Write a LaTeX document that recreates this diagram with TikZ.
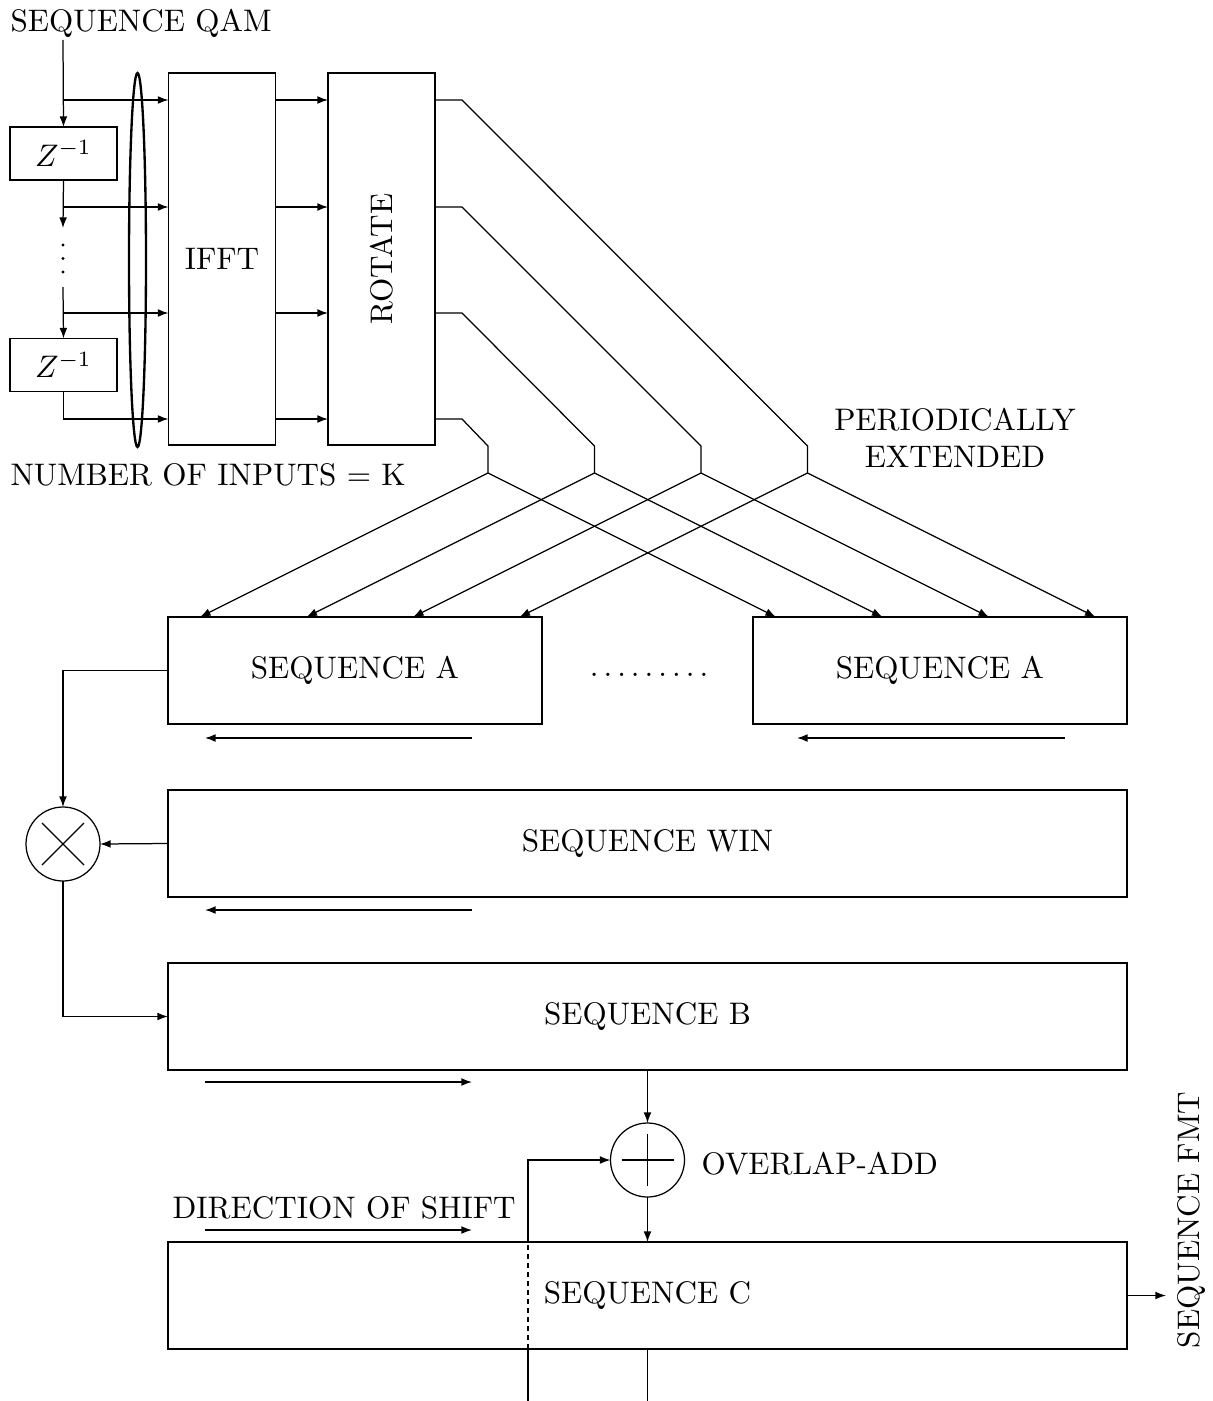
\documentclass[tikz,border=0pt]{standalone}
\usetikzlibrary{arrows.meta,shapes.geometric}
\newcommand{\pxu}{0.321pt}
\newcommand{\spdot}{.\kern1.62pt}
\begin{document}
\begin{tikzpicture}[x=0.321pt,y=-0.321pt,
  line width=0.4pt,
  arr/.style={-{Latex[length=3.4pt,width=2.5pt]}},
  blk/.style={draw, inner sep=0pt, outer sep=0pt},
  zbox/.style={blk, minimum width=107*\pxu, minimum height=53*\pxu},
  tall/.style={blk, minimum width=107*\pxu, minimum height=372*\pxu},
  seqa/.style={blk, minimum width=374*\pxu, minimum height=107*\pxu},
  wide/.style={blk, minimum width=959*\pxu, minimum height=107*\pxu},
  op/.style={draw, circle, inner sep=0pt, outer sep=0pt, minimum size=74*\pxu},
  lbl/.style={inner sep=0pt, anchor=base west}
]
\useasboundingbox (0,0) rectangle (1212,1401);

% ---------- input delay line ----------
\node[lbl] (qam) at (10,31) {SEQUENCE QAM};
\coordinate (qin) at (63,40);
\node[zbox] (z1) at (63.5,153.5) {$Z^{-1}$};
\node[zbox] (z2) at (63.5,365) {$Z^{-1}$};
\coordinate (b1) at (63,100);
\coordinate (b2) at (63,207);
\coordinate (b3) at (63,313);
\coordinate (b4) at (63,419);
\coordinate (dtop) at (63,228);
\coordinate (dbot) at (63,287);

\node[tall] (ifft) at (222,259) {IFFT};
\node[tall] (rot) at (381.5,259) {};
\node[rotate=90, inner sep=0pt] (rottxt) at (rot.center) {ROTATE};

\draw[arr] (qin) -- (z1.north);
\draw[arr] (z1.south) -- (dtop);
\draw[arr] (dbot) -- (z2.north);
\fill (63,245) circle (0.55pt);
\fill (63,258.5) circle (0.55pt);
\fill (63,272) circle (0.55pt);

\draw[arr] (b1) -- (b1 -| ifft.west);
\draw[arr] (b2) -- (b2 -| ifft.west);
\draw[arr] (b3) -- (b3 -| ifft.west);
\draw[arr] (z2.south) |- (b4 -| ifft.west);

% grouping of the K inputs
\node[draw, ellipse, line width=0.75pt, inner sep=0pt, minimum width=17*\pxu, minimum height=374*\pxu] (grp) at (137.5,260) {};
\node[lbl] (ninp) at (10,485) {NUMBER OF INPUTS = K};

% IFFT -> ROTATE
\foreach \b in {b1,b2,b3,b4}
  \draw[arr] (ifft.east |- \b) -- (rot.west |- \b);

% ---------- periodic extension ----------
\coordinate (s1) at (488,473);
\coordinate (s2) at (594.5,473);
\coordinate (s3) at (701,473);
\coordinate (s4) at (807.5,473);
\coordinate (k1) at (488,446);
\coordinate (k2) at (594.5,446);
\coordinate (k3) at (701,446);
\coordinate (k4) at (807.5,446);

\draw (rot.east |- b1) -- ++(27,0) -- (k4) -- (s4);
\draw (rot.east |- b2) -- ++(27,0) -- (k3) -- (s3);
\draw (rot.east |- b3) -- ++(27,0) -- (k2) -- (s2);
\draw (rot.east |- b4) -- ++(27,0) -- (k1) -- (s1);

\node[inner sep=0pt, anchor=base] (per1) at (955,430) {PERIODICALLY};
\node[inner sep=0pt, anchor=base] (per2) at (955,467) {EXTENDED};

\node[seqa] (sa1) at (355,670.5) {SEQUENCE A};
\node[seqa] (sa2) at (940,670.5) {SEQUENCE A};
\node[inner sep=0pt, anchor=base] (gap) at (649,676) {\spdot\spdot\spdot\spdot\spdot\spdot\spdot\spdot.};

\coordinate (ta1) at (200,617);
\coordinate (ta2) at (306.5,617);
\coordinate (ta3) at (413,617);
\coordinate (ta4) at (519.5,617);
\coordinate (tb1) at (776,617);
\coordinate (tb2) at (882.5,617);
\coordinate (tb3) at (989,617);
\coordinate (tb4) at (1095.5,617);

\draw[arr] (s1) -- (ta1);
\draw[arr] (s2) -- (ta2);
\draw[arr] (s3) -- (ta3);
\draw[arr] (s4) -- (ta4);
\draw[arr] (s1) -- (tb1);
\draw[arr] (s2) -- (tb2);
\draw[arr] (s3) -- (tb3);
\draw[arr] (s4) -- (tb4);

% shift directions
\coordinate (da1) at (472,738);  \coordinate (da2) at (205,738);
\coordinate (db1) at (1065,738); \coordinate (db2) at (797,738);
\coordinate (dw1) at (472,910);  \coordinate (dw2) at (205,910);
\coordinate (dc1) at (205,1082); \coordinate (dc2) at (472,1082);
\coordinate (dd1) at (205,1230); \coordinate (dd2) at (472,1230);
\draw[arr] (da1) -- (da2);
\draw[arr] (db1) -- (db2);
\draw[arr] (dw1) -- (dw2);
\draw[arr] (dc1) -- (dc2);
\draw[arr] (dd1) -- (dd2);

% ---------- windowing ----------
\node[wide] (win) at (647.5,843.5) {SEQUENCE WIN};
\node[op] (mult) at (63,844) {};
\draw ([shift={(-21,-21)}]mult.center) -- ([shift={(21,21)}]mult.center);
\draw ([shift={(-21,21)}]mult.center) -- ([shift={(21,-21)}]mult.center);

\draw[arr] (sa1.west) -| (mult.north);
\draw[arr] (win.west) -- (mult.east);

\node[wide] (seqb) at (647.5,1016.5) {SEQUENCE B};
\draw[arr] (mult.south) |- (seqb.west);

% ---------- overlap-add ----------
\node[op] (add) at (647.5,1160) {};
\draw ([xshift=-26*\pxu]add.center) -- ([xshift=26*\pxu]add.center);
\draw ([yshift=-26*\pxu]add.center) -- ([yshift=26*\pxu]add.center);
\node[lbl] (ola) at (701,1174) {OVERLAP-ADD};

\node[wide] (seqc) at (647.5,1295.5) {SEQUENCE C};
\node[lbl] (dir) at (172,1218) {DIRECTION OF SHIFT};

\draw[arr] (seqb.south) -- (add.north);
\draw[arr] (add.south) -- (seqc.north);

\coordinate (fb) at (528,1401);
\coordinate (ob) at (647.5,1401);
\draw (fb) -- (fb |- seqc.south);
\draw[dash pattern=on 1.6pt off 1.3pt] (fb |- seqc.south) -- (fb |- seqc.north);
\draw[arr] (fb |- seqc.north) |- (add.west);
\draw (seqc.south) -- (ob);

\coordinate (out) at (1166,1295.5);
\draw[arr] (seqc.east) -- (out);
\node[rotate=90, inner sep=0pt] (fmt) at (1192,1220) {SEQUENCE FMT};
\end{tikzpicture}
\end{document}
